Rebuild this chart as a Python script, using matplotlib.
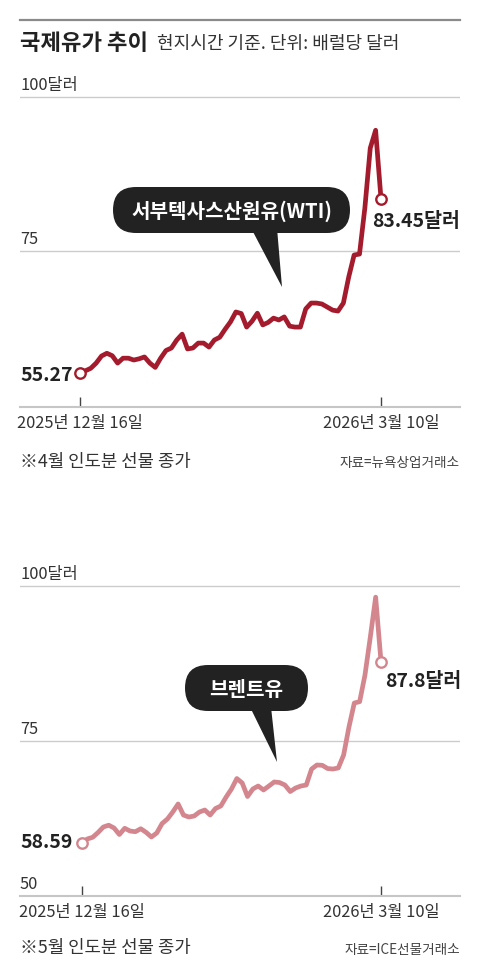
import matplotlib
matplotlib.use('Agg')
import matplotlib.pyplot as plt
from matplotlib.patches import FancyBboxPatch, Polygon
from matplotlib.lines import Line2D
from matplotlib.transforms import Affine2D

plt.rcParams['font.family'] = ['Noto Sans CJK KR', 'DejaVu Sans']

# ---------------- data ----------------
tick_labels = ['2025년 12월 16일', '2026년 3월 10일']

wti = [55.27, 55.55, 55.96, 56.8, 57.95, 58.4, 58.0, 56.8, 57.6, 57.6,
       57.3, 57.5, 57.8, 56.8, 56.1, 57.6, 58.85, 59.25, 60.55, 61.5,
       59.1, 59.25, 60.05, 60.05, 59.4, 60.55, 61.0, 62.3, 63.5, 65.1,
       64.85, 62.65, 63.6, 64.9, 63.0, 63.4, 64.1, 63.8, 64.3, 62.8,
       62.65, 62.65, 65.6, 66.55, 66.55, 66.4, 65.9, 65.4, 65.25, 66.55,
       70.8, 74.35, 74.5, 82.0, 91.7, 94.6, 83.45]

brent = [58.59, 59.2, 59.47, 60.24, 61.13, 61.42, 60.97, 59.92, 60.92, 60.48,
         60.37, 60.85, 60.27, 59.52, 60.16, 61.69, 62.42, 63.55, 64.84, 63.06,
         62.74, 62.9, 63.55, 63.87, 63.06, 64.11, 64.52, 65.97, 67.26, 68.95,
         68.23, 66.05, 67.26, 67.74, 67.1, 67.74, 68.39, 68.3, 67.9, 66.85,
         67.42, 67.74, 67.9, 70.48, 71.13, 71.08, 70.56, 70.48, 70.65, 72.74,
         77.26, 81.13, 81.34, 85.65, 91.77, 98.2, 87.8]

days = list(range(len(wti)))

wti_color = '#a31b2c'
brent_color = '#d4868e'

# ---------------- figure ----------------
W, H = 480, 980
fig = plt.figure(figsize=(W / 100, H / 100), dpi=100)
fig.patch.set_facecolor('white')
PX = Affine2D().scale(1, -1).translate(0, H)  # pixel coords from top-left


def make_ax(x0, x1, ytop, ybot, i_px, v_px):
    ax = fig.add_axes([x0 / W, 1 - ybot / H, (x1 - x0) / W, (ybot - ytop) / H])
    (i0, p0), (i1, p1) = i_px
    sx = (p1 - p0) / (i1 - i0)
    ax.set_xlim(i0 - (p0 - x0) / sx, i0 + (x1 - p0) / sx)
    (v0, q0), (v1, q1) = v_px
    sy = (q0 - q1) / (v1 - v0)
    ax.set_ylim(v0 - (ybot - q0) / sy, v0 + (q0 - ytop) / sy)
    return ax


def style_ax(ax, ylabels):
    ax.set_facecolor('none')
    for s in ['top', 'right', 'left']:
        ax.spines[s].set_visible(False)
    ax.spines['bottom'].set_color('#c6c6c6')
    ax.spines['bottom'].set_linewidth(1.5)
    ax.set_yticks([75, 100])
    ax.yaxis.grid(True, color='#cccccc', lw=1.0)
    ax.set_axisbelow(True)
    ax.tick_params(axis='y', length=0, labelleft=False)
    ax.set_xticks([days[0], days[-1]], tick_labels)
    ax.tick_params(axis='x', direction='in', length=7, width=1.0, color='#444444',
                   pad=6, labelsize=11.8, labelcolor='#333333')
    for val, txt in ylabels:
        ax.annotate(txt, xy=(0, val), xycoords=('axes fraction', 'data'),
                    xytext=(0, 5), textcoords='offset points', ha='left',
                    va='baseline', fontsize=11.8, color='#333333')


def plot_series(ax, vals, color):
    ax.plot(days, vals, color=color, lw=3.4, solid_joinstyle='round',
            solid_capstyle='round', zorder=3, clip_on=False)
    ax.plot([days[0], days[-1]], [vals[0], vals[-1]], 'o', ms=7.5, mfc='white',
            mec=color, mew=1.7, zorder=4, clip_on=False)


def bubble(x0, y0, x1, y1, tri, text, fs):
    h = y1 - y0
    patch = FancyBboxPatch((x0, y0), x1 - x0, h,
                           boxstyle=f'round,pad=0,rounding_size={h / 2}',
                           transform=PX, fc='#222222', ec='none', zorder=5)
    fig.add_artist(patch)
    fig.add_artist(Polygon(tri, closed=True, transform=PX, fc='#222222',
                           ec='none', zorder=5))
    fig.text((x0 + x1) / 2, (y0 + y1) / 2 + 1, text, transform=PX, ha='center',
             va='center', color='white', fontsize=fs, fontweight='bold', zorder=6)


# ---------------- header ----------------
fig.add_artist(Line2D([20, 460], [20, 20], transform=PX, color='#8a8a8a', lw=1.6))
fig.text(20, 43, '국제유가 추이', transform=PX, fontsize=16, fontweight='bold',
         va='center', ha='left', color='#222222')
fig.text(157, 44, '현지시간 기준. 단위: 배럴당 달러', transform=PX, fontsize=13,
         va='center', ha='left', color='#333333')

# ---------------- WTI ----------------
ax1 = make_ax(20, 460, 60, 407, ((0, 80), (56, 381)), ((75, 251), (100, 97)))
style_ax(ax1, [(100, '100달러'), (75, '75')])
plot_series(ax1, wti, wti_color)
ax1.annotate(f'{wti[0]:.2f}', xy=(0, wti[0]), xycoords=('axes fraction', 'data'),
             xytext=(0, -2), textcoords='offset points', ha='left', va='center',
             fontsize=14, fontweight='bold', color='#222222')
ax1.annotate(f'{wti[-1]:.2f}달러', xy=(days[-1], wti[-1]), xytext=(-6.5, -16),
             textcoords='offset points', ha='left', va='center',
             fontsize=14, fontweight='bold', color='#222222')
bubble(113, 187, 350, 233, [(251, 228), (277, 228), (282, 287)],
       '서부텍사스산원유(WTI)', 14.5)
fig.text(20, 462, '※4월 인도분 선물 종가', transform=PX, fontsize=12.8,
         va='center', ha='left', color='#333333')
fig.text(460, 463, '자료=뉴욕상업거래소', transform=PX, fontsize=9.8,
         va='center', ha='right', color='#444444')

# ---------------- Brent ----------------
ax2 = make_ax(20, 460, 550, 896, ((0, 82), (56, 381)), ((75, 741), (100, 586)))
style_ax(ax2, [(100, '100달러'), (75, '75'), (50, '50')])
plot_series(ax2, brent, brent_color)
ax2.annotate(f'{brent[0]:.2f}', xy=(0, brent[0]), xycoords=('axes fraction', 'data'),
             xytext=(0, 0), textcoords='offset points', ha='left', va='center',
             fontsize=14, fontweight='bold', color='#222222')
ax2.annotate(f'{brent[-1]:.1f}달러', xy=(days[-1], brent[-1]), xytext=(3, -14),
             textcoords='offset points', ha='left', va='center',
             fontsize=14, fontweight='bold', color='#222222')
bubble(185, 665, 308, 711, [(250, 707), (271, 707), (277, 762)], '브렌트유', 14.5)
fig.text(20, 948, '※5월 인도분 선물 종가', transform=PX, fontsize=12.8,
         va='center', ha='left', color='#333333')
fig.text(460, 950, '자료=ICE선물거래소', transform=PX, fontsize=9.8,
         va='center', ha='right', color='#444444')

fig.savefig('out.png', dpi=100, facecolor='white')
